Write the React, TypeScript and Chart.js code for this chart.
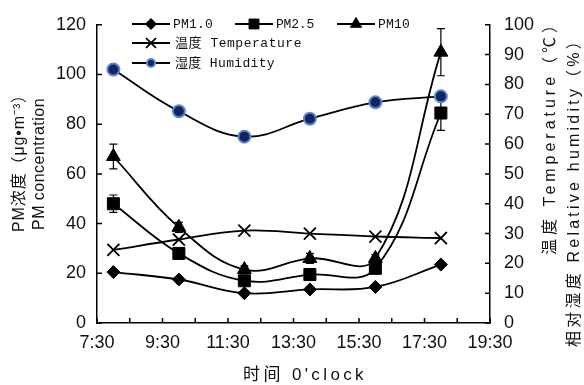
import React, { useEffect, useRef } from 'react';
import { Chart, registerables } from 'chart.js';
import { drawPoint } from 'chart.js/helpers';

Chart.register(...registerables);

// ---- data ----
const times = [8, 10, 12, 14, 16, 18];
const xTickValues = [7.5, 8.5, 9.5, 10.5, 11.5, 12.5, 13.5, 14.5, 15.5, 16.5, 17.5, 18.5, 19.5];
const xTickLabels = ['7:30', '', '9:30', '', '11:30', '', '13:30', '', '15:30', '', '17:30', '', '19:30'];
const leftTicks = [0, 20, 40, 60, 80, 100, 120];
const rightTicks = [0, 10, 20, 30, 40, 50, 60, 70, 80, 90, 100];

const pm1 = [20.5, 17.5, 12, 13.5, 14.5, 23.5];
const pm25 = [48, 28, 17, 19.5, 22, 84.5];
const pm25Err = [3.5, 1, 1, 1, 1, 7];
const pm10 = [67, 38.5, 21.5, 26, 26, 109];
const pm10Err = [5, 2, 1.5, 2, 1.5, 9.5];
const temperature = [24.5, 28, 31, 30, 29, 28.5];
const humidity = [85, 71, 62.5, 68.5, 74, 76];

const seriesLabels = ['PM1.0', 'PM2.5', 'PM10', '温度 Temperature', '湿度 Humidity'];
const leftTitle = ['PM浓度（μg•m⁻³）', 'PM concentration'];
const rightTitles = ['温度 Temperature（℃）', '相对湿度 Relative humidity（%）'];
const xTitle = "时间 0'clock";

const FONT = "'Liberation Sans', 'Noto Sans CJK SC', sans-serif";
const MONO = "'Liberation Mono', 'Noto Sans CJK SC', monospace";

function pts(vals: number[]) {
  return vals.map((v, i) => ({ x: times[i], y: v }));
}

function fitText(ctx: CanvasRenderingContext2D, text: string, x: number, y: number, length: number, rot: number) {
  ctx.save();
  ctx.translate(x, y);
  ctx.rotate(rot);
  (ctx as any).letterSpacing = '0px';
  const w = ctx.measureText(text).width;
  const n = Array.from(text).length;
  const sp = (length - w) / n;
  (ctx as any).letterSpacing = sp + 'px';
  ctx.textAlign = 'left';
  ctx.textBaseline = 'middle';
  ctx.fillText(text, 0, 0);
  ctx.restore();
}

const decorPlugin = {
  id: 'decor',
  beforeDatasetsDraw(chart: any) {
    const ctx = chart.ctx;
    const ys = chart.scales.y;
    const xs = chart.scales.x;
    ctx.save();
    ctx.strokeStyle = '#000';
    ctx.lineWidth = 1.2;
    chart.data.datasets.forEach((ds: any) => {
      if (!ds.errors) return;
      ds.data.forEach((p: any, i: number) => {
        const e = ds.errors[i];
        const px = xs.getPixelForValue(p.x);
        const y1 = ys.getPixelForValue(p.y + e);
        const y2 = ys.getPixelForValue(p.y - e);
        ctx.beginPath();
        ctx.moveTo(px, y1); ctx.lineTo(px, y2);
        ctx.moveTo(px - 4, y1); ctx.lineTo(px + 4, y1);
        ctx.moveTo(px - 4, y2); ctx.lineTo(px + 4, y2);
        ctx.stroke();
      });
    });
    ctx.restore();
  },
  afterDraw(chart: any) {
    const ctx = chart.ctx;
    const a = chart.chartArea;
    const ys = chart.scales.y;
    const y1s = chart.scales.y1;
    const xs = chart.scales.x;
    ctx.save();
    ctx.strokeStyle = '#000';
    ctx.lineWidth = 1.5;
    ctx.beginPath();
    leftTicks.forEach((v) => { const y = ys.getPixelForValue(v); ctx.moveTo(a.left, y); ctx.lineTo(a.left + 5, y); });
    rightTicks.forEach((v) => { const y = y1s.getPixelForValue(v); ctx.moveTo(a.right - 5, y); ctx.lineTo(a.right, y); });
    xTickValues.forEach((v) => { const x = xs.getPixelForValue(v); ctx.moveTo(x, a.bottom); ctx.lineTo(x, a.bottom - 5); });
    ctx.stroke();

    // titles
    ctx.fillStyle = '#111';
    ctx.font = `16px ${FONT}`;
    fitText(ctx, leftTitle[0], 20, 232, 146, -Math.PI / 2);
    fitText(ctx, leftTitle[1], 40, 230, 132, -Math.PI / 2);
    fitText(ctx, rightTitles[0], 551, 255, 242, -Math.PI / 2);
    fitText(ctx, rightTitles[1], 575, 347, 317, -Math.PI / 2);
    ctx.font = `17px ${FONT}`;
    fitText(ctx, xTitle, 243, 375, 124, 0);

    // legend
    const items = [
      { i: 0, x: 132, y: 24, len: 40 },
      { i: 1, x: 235, y: 24, len: 38 },
      { i: 2, x: 337, y: 24, len: 32 },
      { i: 3, x: 132, y: 43, len: 127 },
      { i: 4, x: 132, y: 63, len: 100 },
    ];
    ctx.font = `13px ${MONO}`;
    items.forEach((it) => {
      const ds = chart.data.datasets[it.i];
      ctx.strokeStyle = '#000';
      ctx.lineWidth = 1.8;
      ctx.beginPath();
      ctx.moveTo(it.x, it.y);
      ctx.lineTo(it.x + 38, it.y);
      ctx.stroke();
      ctx.fillStyle = ds.pointBackgroundColor;
      ctx.strokeStyle = ds.pointBorderColor;
      ctx.lineWidth = ds.pointBorderWidth;
      drawPoint(ctx, { pointStyle: ds.pointStyle, radius: ds.legendRadius, rotation: 0, borderWidth: ds.pointBorderWidth } as any, it.x + 19, it.y);
      ctx.fillStyle = '#111';
      fitText(ctx, ds.label, it.x + (it.i >= 3 ? 43 : 41), it.y + 1, it.len, 0);
    });
    ctx.restore();
  },
};

export default function App() {
  const ref = useRef<HTMLCanvasElement>(null);
  useEffect(() => {
    if (!ref.current) return;
    const common = { borderColor: '#000', borderWidth: 1.8, tension: 0.4, fill: false };
    const chart = new Chart(ref.current, {
      type: 'line',
      data: {
        datasets: [
          { ...common, label: seriesLabels[0], data: pts(pm1), yAxisID: 'y', pointStyle: 'rectRot', pointRadius: 6.5, legendRadius: 5.5, pointBackgroundColor: '#000', pointBorderColor: '#000', pointBorderWidth: 1 } as any,
          { ...common, label: seriesLabels[1], data: pts(pm25), errors: pm25Err, yAxisID: 'y', pointStyle: 'rect', pointRadius: 8.5, legendRadius: 7, pointBackgroundColor: '#000', pointBorderColor: '#000', pointBorderWidth: 1 } as any,
          { ...common, label: seriesLabels[2], data: pts(pm10), errors: pm10Err, yAxisID: 'y', pointStyle: 'triangle', pointRadius: 8, legendRadius: 6.5, pointBackgroundColor: '#000', pointBorderColor: '#000', pointBorderWidth: 1 } as any,
          { ...common, label: seriesLabels[3], data: pts(temperature), yAxisID: 'y1', pointStyle: 'crossRot', pointRadius: 8.5, legendRadius: 7, pointBackgroundColor: '#000', pointBorderColor: '#000', pointBorderWidth: 1.8 } as any,
          { ...common, label: seriesLabels[4], data: pts(humidity), yAxisID: 'y1', pointStyle: 'circle', pointRadius: 6, legendRadius: 4, pointBackgroundColor: '#14245e', pointBorderColor: '#5a86d2', pointBorderWidth: 2 } as any,
        ],
      },
      options: {
        responsive: false,
        animation: false,
        devicePixelRatio: 1,
        layout: { padding: { top: 20, left: 0, right: 0, bottom: 0 } },
        plugins: { legend: { display: false }, tooltip: { enabled: false } },
        scales: {
          x: {
            type: 'linear',
            min: 7.5,
            max: 19.5,
            afterBuildTicks: (s: any) => { s.ticks = xTickValues.map((v) => ({ value: v })); },
            afterFit: (s: any) => { s.height = 62; },
            ticks: {
              autoSkip: false,
              maxRotation: 0,
              padding: 9,
              color: '#111',
              font: { family: FONT, size: 18 },
              callback: (v: any) => { const i = xTickValues.indexOf(Number(v)); return i >= 0 ? xTickLabels[i] : ''; },
            },
            grid: { display: true, drawOnChartArea: false, drawTicks: false },
            border: { display: true, color: '#000', width: 1.5 },
          },
          y: {
            position: 'left',
            min: 0,
            max: 120,
            afterBuildTicks: (s: any) => { s.ticks = leftTicks.map((v) => ({ value: v })); },
            afterFit: (s: any) => { s.width = 97; },
            ticks: { padding: 11, color: '#111', font: { family: FONT, size: 18 } },
            grid: { display: true, drawOnChartArea: false, drawTicks: false },
            border: { display: true, color: '#000', width: 1.5 },
          },
          y1: {
            position: 'right',
            min: 0,
            max: 100,
            afterBuildTicks: (s: any) => { s.ticks = rightTicks.map((v) => ({ value: v })); },
            afterFit: (s: any) => { s.width = 94; },
            ticks: { padding: 14, color: '#111', font: { family: FONT, size: 18 } },
            grid: { display: true, drawOnChartArea: false, drawTicks: false },
            border: { display: true, color: '#000', width: 1.5 },
          },
        },
      } as any,
      plugins: [decorPlugin],
    });
    return () => chart.destroy();
  }, []);
  return (
    <div style={{ position: 'absolute', left: 0, top: 0, width: 584, height: 385, background: '#fff' }}>
      <canvas ref={ref} width={584} height={385} />
    </div>
  );
}
